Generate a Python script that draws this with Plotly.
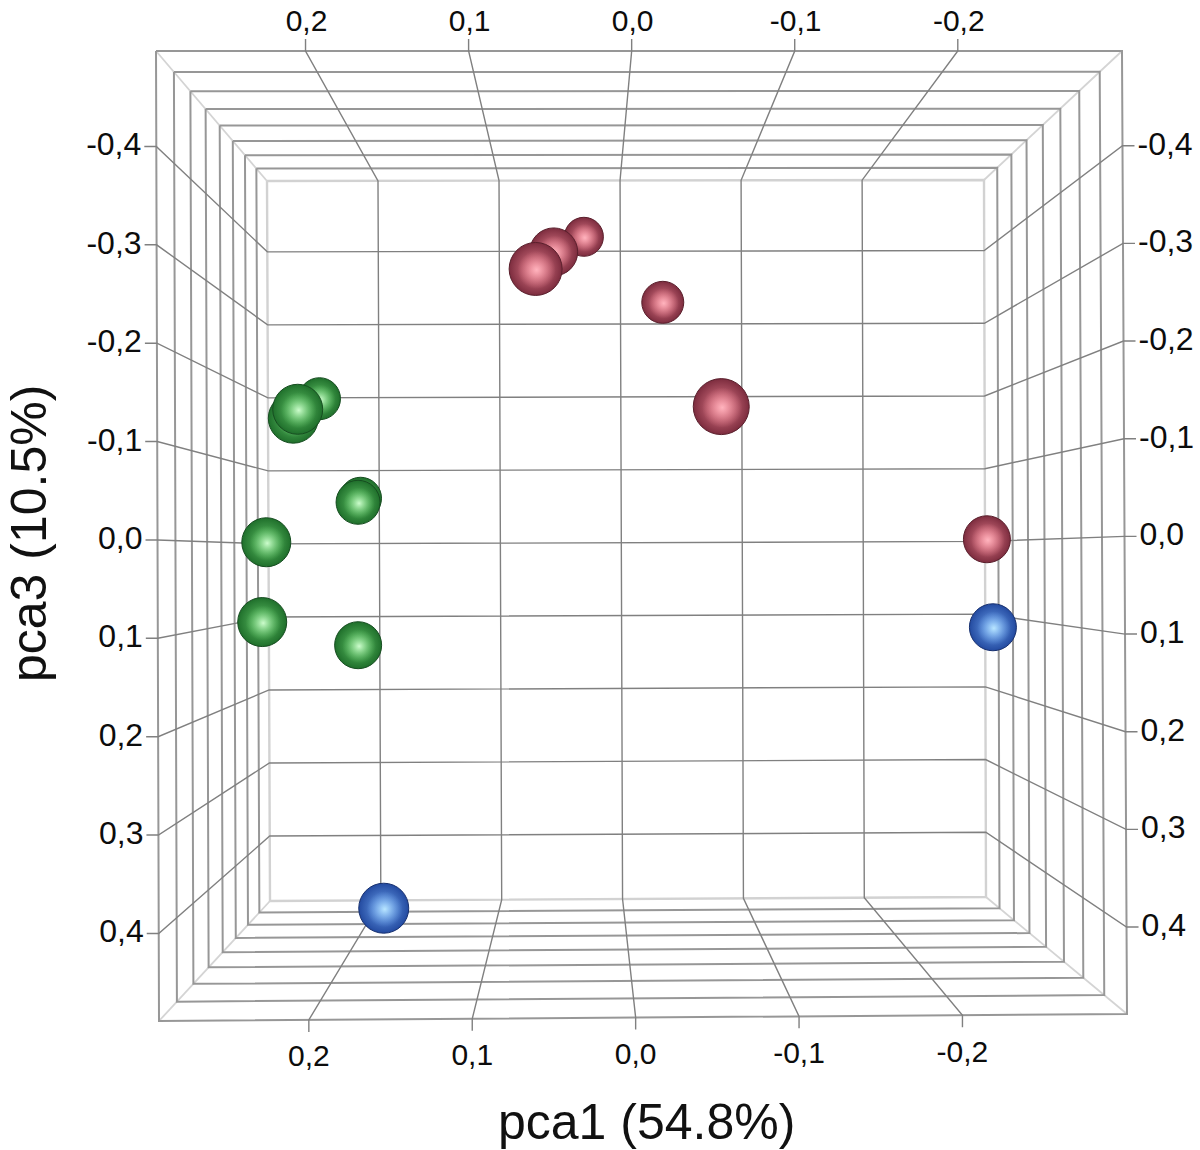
import plotly.graph_objects as go

# ---- data ----
pca1_ticks = [0.2, 0.1, 0.0, -0.1, -0.2]
pca3_ticks = [-0.4, -0.3, -0.2, -0.1, 0.0, 0.1, 0.2, 0.3, 0.4]
pca2_ticks = [-0.4, -0.3, -0.2, -0.1, 0.0, 0.1, 0.2, 0.3, 0.4]

red_pca1 = [0.030, -0.030, 0.051, -0.255, 0.061, -0.054]
red_pca2 = [-0.28, -0.16, 0.08, 0.04, 0.28, 0.40]
red_pca3 = [-0.403, -0.303, -0.335, 0.000, -0.290, -0.134]

green_pca1 = [0.232, 0.201, 0.198, 0.191, 0.249, 0.252, 0.227, 0.224]
green_pca2 = [-0.16, -0.16, -0.08, 0.04, 0.12, 0.12, 0.16, 0.16]
green_pca3 = [-0.182, -0.056, -0.049, 0.122, 0.001, 0.092, -0.138, -0.148]

blue_pca1 = [-0.259, 0.167]
blue_pca2 = [0.04, 0.16]
blue_pca3 = [0.104, 0.413]

x_title = "pca1 (54.8%)"
z_title = "pca3 (10.5%)"


# ---- perspective camera of the 3-D box ----
PCA1_LIM = (0.2917, -0.3007)
PCA3_LIM = (-0.497, 0.489)
PCA2_LIM = (-0.4, 0.4)
BACK = [(267, 181), (984, 180), (986, 897), (270, 901)]
FRONT = [(156, 51), (1122, 51), (1127, 1014), (159, 1021)]


def project(p1, p2, p3):
    u = (p1 - PCA1_LIM[0]) / (PCA1_LIM[1] - PCA1_LIM[0])
    v = (p3 - PCA3_LIM[0]) / (PCA3_LIM[1] - PCA3_LIM[0])
    d = (p2 - PCA2_LIM[0]) / (PCA2_LIM[1] - PCA2_LIM[0])
    s = 1 / (1 - 0.2576 * d)
    t = (s - 1) / 0.347
    res = []
    for k in (0, 1):
        corners = [BACK[i][k] + (FRONT[i][k] - BACK[i][k]) * t for i in range(4)]
        res.append((1 - u) * (1 - v) * corners[0] + u * (1 - v) * corners[1]
                   + u * v * corners[2] + (1 - u) * v * corners[3])
    return res


def fmt(v):
    return f"{v:.1f}".replace(".", ",")


def add_path(store, pts):
    for x, y in pts:
        store[0].append(x)
        store[1].append(y)
    store[0].append(None)
    store[1].append(None)


P1A, P1B = PCA1_LIM
P3A, P3B = PCA3_LIM
BK, FR = PCA2_LIM

frames_dark = ([], [])
frame_back = ([], [])
diagonals = ([], [])
tick_lines = ([], [])

for lvl in pca2_ticks:
    rect = [project(P1A, lvl, P3A), project(P1B, lvl, P3A), project(P1B, lvl, P3B),
            project(P1A, lvl, P3B), project(P1A, lvl, P3A)]
    add_path(frame_back if lvl == pca2_ticks[0] else frames_dark, rect)

for a, c in ((P1A, P3A), (P1B, P3A), (P1B, P3B), (P1A, P3B)):
    add_path(diagonals, [project(a, BK, c), project(a, FR, c)])

STUB = 12
for v in pca1_ticks:
    ft, bt = project(v, FR, P3A), project(v, BK, P3A)
    bb, fb = project(v, BK, P3B), project(v, FR, P3B)
    add_path(tick_lines, [(ft[0], ft[1] - STUB), ft, bt, bb, fb, (fb[0], fb[1] + STUB)])
for v in pca3_ticks:
    fl, bl = project(P1A, FR, v), project(P1A, BK, v)
    br, fr = project(P1B, BK, v), project(P1B, FR, v)
    add_path(tick_lines, [(fl[0] - STUB, fl[1]), fl, bl, br, fr, (fr[0] + STUB, fr[1])])

fig = go.Figure()
for store, col, w in ((frame_back, "#d2d2d2", 2.4), (diagonals, "#d4d4d4", 1.8),
                      (frames_dark, "#979797", 2.0), (tick_lines, "#808080", 1.4)):
    fig.add_trace(go.Scatter(x=store[0], y=store[1], mode="lines", hoverinfo="skip",
                             line=dict(color=col, width=w), connectgaps=False))

# tick labels
FONT = "Liberation Sans, Arial, sans-serif"
SIDE = dict(family=FONT, size=32, color="#0c0c0c")
END = dict(family=FONT, size=30, color="#0c0c0c")
lab = {"top": ([], [], []), "bottom": ([], [], []), "left": ([], [], []), "right": ([], [], [])}
for v in pca1_ticks:
    x, y = project(v, FR, P3A)
    lab["top"][0].append(x + 1); lab["top"][1].append(y - 13); lab["top"][2].append(fmt(v))
    x, y = project(v, FR, P3B)
    lab["bottom"][0].append(x); lab["bottom"][1].append(y + 24); lab["bottom"][2].append(fmt(v))
for v in pca3_ticks:
    x, y = project(P1A, FR, v)
    lab["left"][0].append(x - 15); lab["left"][1].append(y + 1); lab["left"][2].append(fmt(v))
    x, y = project(P1B, FR, v)
    lab["right"][0].append(x + 15); lab["right"][1].append(y + 1); lab["right"][2].append(fmt(v))
for side, pos, font in (("top", "top center", END), ("bottom", "bottom center", END),
                        ("left", "middle left", SIDE), ("right", "middle right", SIDE)):
    xs, ys, ts = lab[side]
    fig.add_trace(go.Scatter(x=xs, y=ys, text=ts, mode="text", textposition=pos,
                             textfont=font, hoverinfo="skip"))

# spheres, back to front: rim, shaded edge, centre, highlight, clear highlight edge
PALETTE = {
    "red": ("#5a1f2c", "#7c2c3e", "#e8808f", "rgba(255,180,190,1)", "rgba(232,128,143,0)"),
    "green": ("#164d20", "#1f6f2b", "#63c669", "rgba(205,252,205,1)", "rgba(99,198,105,0)"),
    "blue": ("#17306f", "#234aa0", "#6fa5ee", "rgba(185,230,255,1)", "rgba(111,165,238,0)"),
}
spheres = []
for name, a, b, c in (("red", red_pca1, red_pca2, red_pca3),
                      ("green", green_pca1, green_pca2, green_pca3),
                      ("blue", blue_pca1, blue_pca2, blue_pca3)):
    spheres += [(y, x, z, name) for x, y, z in zip(a, b, c)]
spheres.sort(key=lambda r: r[0])

for p2, p1, p3, name in spheres:
    rim, edge, mid, hi, clear = PALETTE[name]
    px, py = project(p1, p2, p3)
    diam = 36 + 20 * (p2 - BK) / (FR - BK)
    fig.add_trace(go.Scatter(
        x=[px], y=[py], mode="markers", hoverinfo="skip",
        marker=dict(size=diam, color=edge, line=dict(color=rim, width=1),
                    gradient=dict(type="radial", color=mid))))
    fig.add_trace(go.Scatter(
        x=[px + 1], y=[py + 1], mode="markers", hoverinfo="skip",
        marker=dict(size=diam * 0.72, color=clear, line=dict(width=0),
                    gradient=dict(type="radial", color=hi))))

TITLE = dict(family=FONT, size=50, color="#111111")
fig.add_annotation(x=646, y=1122, xref="x", yref="y", text=x_title, showarrow=False, font=TITLE)
fig.add_annotation(x=29, y=534, xref="x", yref="y", text=z_title, showarrow=False, font=TITLE,
                   textangle=-90)

fig.update_layout(
    width=1200, height=1150, margin=dict(l=0, r=0, t=0, b=0),
    paper_bgcolor="white", plot_bgcolor="white", showlegend=False,
    xaxis=dict(range=[0, 1200], visible=False, fixedrange=True),
    yaxis=dict(range=[1150, 0], visible=False, fixedrange=True),
)
fig.write_html("out.html", config=dict(displayModeBar=False),
               post_script="document.body.style.margin='0';")
